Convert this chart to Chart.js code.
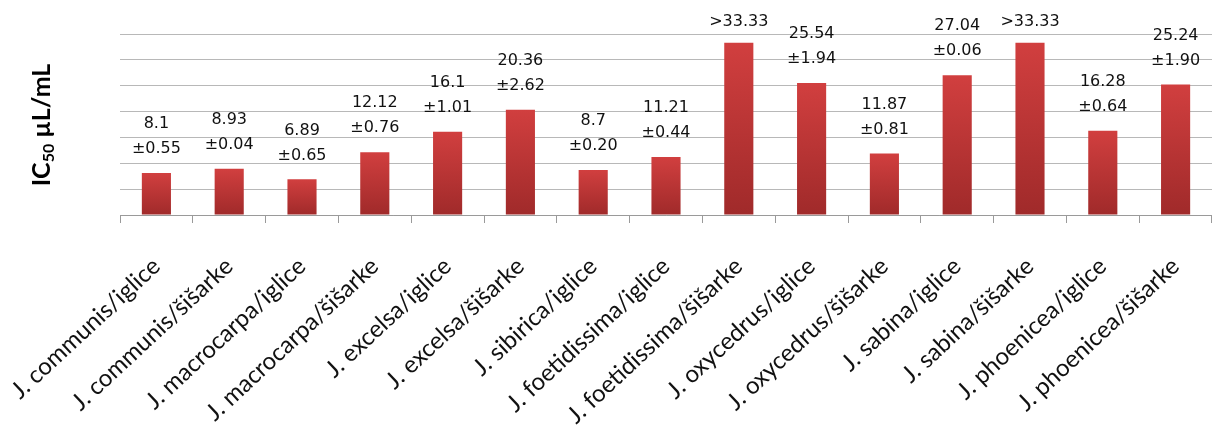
<!DOCTYPE html>
<html>
<head>
<meta charset="utf-8">
<script src="https://cdn.jsdelivr.net/npm/chart.js@4.4.1/dist/chart.umd.min.js"></script>
<style>
  body { margin: 0; background: #fff; }
</style>
</head>
<body>
<canvas id="chart" width="1212" height="425"></canvas>
<script>
const categories = [
  "J. communis/iglice", "J. communis/šišarke", "J. macrocarpa/iglice", "J. macrocarpa/šišarke",
  "J. excelsa/iglice", "J. excelsa/šišarke", "J. sibirica/iglice", "J. foetidissima/iglice",
  "J. foetidissima/šišarke", "J. oxycedrus/iglice", "J. oxycedrus/šišarke", "J. sabina/iglice",
  "J. sabina/šišarke", "J. phoenicea/iglice", "J. phoenicea/šišarke"
];
const values = [8.1, 8.93, 6.89, 12.12, 16.1, 20.36, 8.7, 11.21, 33.33, 25.54, 11.87, 27.04, 33.33, 16.28, 25.24];
const errors = ["0.55", "0.04", "0.65", "0.76", "1.01", "2.62", "0.20", "0.44", null, "1.94", "0.81", "0.06", null, "0.64", "1.90"];
const qualifiers = ["", "", "", "", "", "", "", "", ">", "", "", "", ">", "", ""];
const yTicks = [0, 5, 10, 15, 20, 25, 30, 35];

const ctx = document.getElementById("chart").getContext("2d");

// per-bar red gradient, light at the top, darker at the base
function barGradient(c) {
  const chart = c.chart;
  const y = chart.scales.y;
  if (!chart.chartArea || !y || c.parsed === undefined) return "#c03636";
  const top = y.getPixelForValue(c.parsed.y);
  const base = y.getPixelForValue(0);
  const g = chart.ctx.createLinearGradient(0, top, 0, base);
  g.addColorStop(0, "#d13f3f");
  g.addColorStop(1, "#a02a2a");
  return g;
}

const valueLabels = {
  id: "valueLabels",
  afterDatasetsDraw(chart) {
    const c = chart.ctx;
    const meta = chart.getDatasetMeta(0);
    c.save();
    c.font = "16px 'DejaVu Sans'";
    c.fillStyle = "#111";
    c.textAlign = "center";
    c.textBaseline = "middle";
    meta.data.forEach((bar, i) => {
      const first = qualifiers[i] + values[i];
      if (errors[i] === null) {
        c.fillText(first, bar.x, bar.y - 21);
      } else {
        c.fillText(first, bar.x, bar.y - 49);
        c.fillText("±" + errors[i], bar.x, bar.y - 24);
      }
    });
    c.restore();
  }
};

const yTitle = {
  id: "yTitle",
  afterDraw(chart) {
    const c = chart.ctx;
    c.save();
    c.translate(50, 125);
    c.rotate(-Math.PI / 2);
    c.fillStyle = "#000";
    c.textBaseline = "alphabetic";
    const big = "bold 25px Lato";
    const small = "bold 16px Lato";
    c.font = big;
    const w1 = c.measureText("IC").width;
    c.font = small;
    const w2 = c.measureText("50").width;
    c.font = big;
    const w3 = c.measureText(" µL/mL").width;
    let x = -(w1 + w2 + w3) / 2;
    c.fillText("IC", x, 0);
    x += w1;
    c.font = small;
    c.fillText("50", x, 4);
    x += w2;
    c.font = big;
    c.fillText(" µL/mL", x, 0);
    c.restore();
  }
};

new Chart(ctx, {
  type: "bar",
  data: {
    labels: categories,
    datasets: [{
      data: values,
      backgroundColor: barGradient,
      barPercentage: 0.4,
      categoryPercentage: 1
    }]
  },
  options: {
    responsive: false,
    animation: false,
    layout: { padding: { left: 120, top: 34, right: 0, bottom: 0 } },
    plugins: { legend: { display: false }, tooltip: { enabled: false } },
    scales: {
      y: {
        min: 0,
        max: 35,
        afterBuildTicks(scale) {
          scale.ticks = yTicks.map(v => ({ value: v }));
        },
        ticks: { display: false },
        grid: { color: "#b8b8b8", lineWidth: 1, drawTicks: false },
        border: { display: false }
      },
      x: {
        afterFit(scale) {
          scale.height = 210;
          scale.paddingLeft = 0;
          scale.paddingRight = 0;
        },
        ticks: {
          autoSkip: false,
          minRotation: 43,
          maxRotation: 43,
          padding: 29,
          labelOffset: 0,
          color: "#111",
          font: { family: "Lato", size: 24 }
        },
        grid: { drawOnChartArea: false, drawTicks: true, tickLength: 8, color: "#9a9a9a" },
        border: { display: true, color: "#9a9a9a" }
      }
    }
  },
  plugins: [valueLabels, yTitle]
});
</script>
</body>
</html>
